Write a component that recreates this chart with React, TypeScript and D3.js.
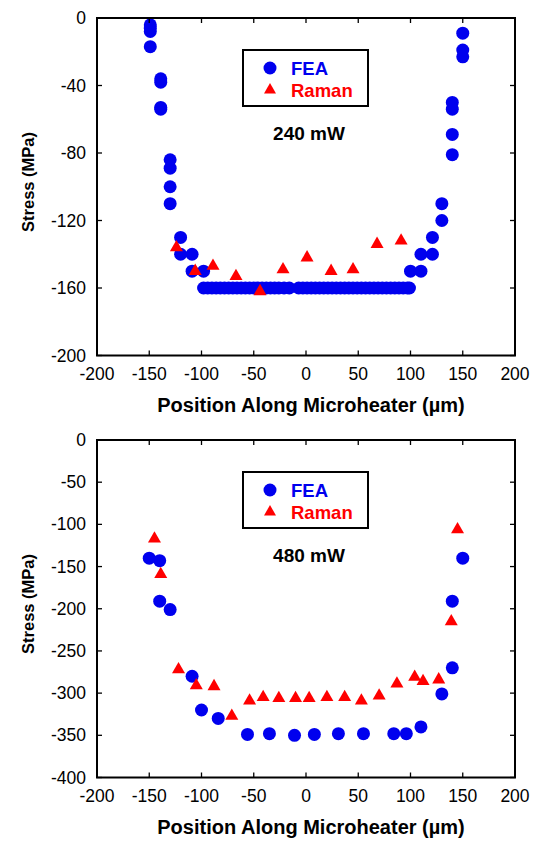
import React from 'react';
import * as d3 from 'd3';

const xTicks = [-200, -150, -100, -50, 0, 50, 100, 150, 200];
const yTicks240 = [0, -40, -80, -120, -160, -200];
const yTicks480 = [0, -50, -100, -150, -200, -250, -300, -350, -400];

const fea240: [number, number][] = [
  [-149, -4], [-149, -6], [-149, -8], [-149, -17],
  [-139, -36], [-139, -38], [-139, -53], [-139, -54],
  [-130, -84], [-130, -89], [-130, -100], [-130, -110],
  [-120, -130], [-120, -140], [-109, -140], [-109, -150], [-98, -150],
  [-98, -160], [-94, -160], [-90, -160], [-86, -160], [-82, -160], [-78, -160],
  [-74, -160], [-70, -160], [-66, -160], [-62, -160], [-58, -160], [-54, -160],
  [-50, -160], [-46, -160], [-42, -160], [-38, -160], [-34, -160], [-30, -160],
  [-26, -160], [-21, -160], [-16, -160],
  [-7, -160], [-3, -160], [1, -160], [5, -160], [9, -160], [13, -160], [17, -160],
  [21, -160], [25, -160], [29, -160], [33, -160], [37, -160], [41, -160], [45, -160],
  [49, -160], [53, -160], [57, -160], [61, -160], [65, -160], [69, -160], [73, -160],
  [77, -160], [81, -160], [85, -160], [89, -160], [93, -160], [97, -160], [99, -160],
  [100, -150], [110, -150], [110, -140], [121, -140], [121, -130],
  [130, -120], [130, -110], [140, -81], [140, -69], [140, -54], [140, -50],
  [150, -9], [150, -19], [150, -23],
];

const raman240: [number, number][] = [
  [-124, -136], [-106, -150], [-89, -147], [-67, -153], [-44, -162],
  [-22, -149], [1, -142], [24, -150], [45, -149], [68, -134], [91, -132],
];

const fea480: [number, number][] = [
  [-150, -140], [-140, -143], [-140, -191], [-130, -201],
  [-109, -280], [-100, -320], [-84, -330],
  [-56, -349], [-35, -348], [-11, -350], [8, -349], [31, -348], [55, -348],
  [84, -348], [96, -348], [110, -340],
  [130, -301], [140, -270], [140, -191], [150, -140],
];

const raman480: [number, number][] = [
  [-145, -117], [-139, -159], [-122, -272], [-105, -291], [-88, -292],
  [-71, -327], [-54, -309], [-41, -305], [-26, -306], [-10, -306], [3, -306],
  [20, -305], [37, -305], [53, -309], [70, -303], [87, -289], [104, -281],
  [112, -286], [127, -284], [139, -215], [145, -106],
];

const BLUE = '#0000EE';
const RED = '#FF0000';
const FONT = '"Liberation Sans", Arial, sans-serif';

function T(props: { x: number; y: number; anchor?: string; size: number; bold?: boolean; fill?: string; children: React.ReactNode }) {
  const { x, y, anchor = 'start', size, bold, fill = '#000', children } = props;
  return (
    <text
      x={x}
      y={y}
      textAnchor={anchor}
      fontFamily={FONT}
      fontSize={size}
      fontWeight={bold ? 'bold' : 'normal'}
      fill={fill}
    >
      {children}
    </text>
  );
}

function tri(cx: number, cy: number, s: number) {
  const h = (s * Math.sqrt(3)) / 2;
  return `M${cx},${cy - (2 * h) / 3}L${cx + s / 2},${cy + h / 3}L${cx - s / 2},${cy + h / 3}Z`;
}

function Panel(props: {
  top: number;
  yMin: number;
  yTicks: number[];
  fea: [number, number][];
  raman: [number, number][];
  label: string;
}) {
  const { top, yMin, yTicks, fea, raman, label } = props;
  const X0 = 97, X1 = 515;
  const Y0 = top, Y1 = top + 337.5;
  const x = d3.scaleLinear().domain([-200, 200]).range([X0, X1]);
  const y = d3.scaleLinear().domain([0, yMin]).range([Y0, Y1]);
  const TL = 5;
  return (
    <g>
      {fea.map((d, i) => (
        <circle key={'f' + i} cx={x(d[0])} cy={y(d[1])} r={6.5} fill={BLUE} />
      ))}
      {raman.map((d, i) => (
        <path key={'r' + i} d={tri(x(d[0]), y(d[1]), 13)} fill={RED} />
      ))}
      <rect x={X0} y={Y0} width={X1 - X0} height={Y1 - Y0} fill="none" stroke="#000" strokeWidth={2} />
      {xTicks.map((t) => (
        <g key={'xt' + t}>
          <line x1={x(t)} x2={x(t)} y1={Y1} y2={Y1 - TL} stroke="#000" strokeWidth={1.3} />
          <line x1={x(t)} x2={x(t)} y1={Y0} y2={Y0 + TL} stroke="#000" strokeWidth={1.3} />
          <T x={x(t)} y={Y1 + 24} anchor="middle" size={17.5}>{String(t)}</T>
        </g>
      ))}
      {yTicks.map((t) => (
        <g key={'yt' + t}>
          <line x1={X0} x2={X0 + TL} y1={y(t)} y2={y(t)} stroke="#000" strokeWidth={1.3} />
          <line x1={X1} x2={X1 - TL} y1={y(t)} y2={y(t)} stroke="#000" strokeWidth={1.3} />
          <T x={86} y={y(t) + 6} anchor="end" size={17.5}>{String(t)}</T>
        </g>
      ))}
      <T x={311} y={Y1 + 56} anchor="middle" size={20} bold>Position Along Microheater (µm)</T>
      <text
        transform={`translate(34,${Y0 + 164}) rotate(-90)`}
        textAnchor="middle"
        fontFamily={FONT}
        fontSize={16.5}
        fontWeight="bold"
      >
        Stress (MPa)
      </text>
      <rect x={243} y={Y0 + 32} width={125} height={56} fill="none" stroke="#000" strokeWidth={2} />
      <circle cx={270} cy={Y0 + 50} r={6.5} fill={BLUE} />
      <path d={tri(270, Y0 + 72, 12)} fill={RED} />
      <T x={291} y={Y0 + 57} size={18.5} bold fill={BLUE}>FEA</T>
      <T x={291} y={Y0 + 79} size={18.5} bold fill={RED}>Raman</T>
      <T x={309} y={Y0 + 122} anchor="middle" size={19} bold>{label}</T>
    </g>
  );
}

export default function App() {
  return (
    <svg
      width={538}
      height={841}
      style={{ position: 'absolute', left: 0, top: 0, background: '#fff' }}
    >
      <rect width={538} height={841} fill="#fff" />
      <Panel top={18} yMin={-200} yTicks={yTicks240} fea={fea240} raman={raman240} label="240 mW" />
      <Panel top={440} yMin={-400} yTicks={yTicks480} fea={fea480} raman={raman480} label="480 mW" />
    </svg>
  );
}
